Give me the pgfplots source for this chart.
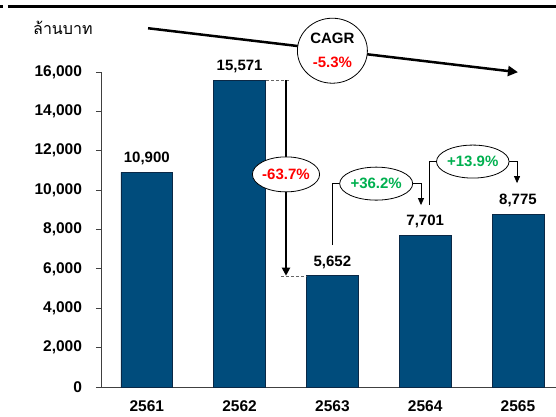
\documentclass[border=0pt]{standalone}
\usepackage{pgfplots}
\pgfplotsset{compat=1.18}
\usepackage{fontspec}
\setmainfont{Liberation Sans}
\newfontfamily\thaifont[Script=Thai]{Loma}
\usetikzlibrary{arrows.meta,shapes.geometric}
\definecolor{barblue}{RGB}{0,76,124}
\definecolor{baredge}{RGB}{10,40,70}
\definecolor{pctred}{RGB}{255,0,0}
\definecolor{pctgreen}{RGB}{0,176,80}
\begin{document}
\begin{tikzpicture}
\begin{axis}[
  at={(0,0)}, anchor=south west,
  scale only axis, width=455pt, height=315pt,
  xmin=-0.494, xmax=4.41, ymin=0, ymax=16000,
  axis x line*=bottom, axis y line*=left,
  axis line style={line width=0.8pt, color=black!75, -},
  xtick={0,1,2,3,4}, xticklabels={2561,2562,2563,2564,2565},
  x tick style={draw=none},
  ytick={0,2000,4000,6000,8000,10000,12000,14000,16000},
  scaled y ticks=false,
  y tick style={line width=0.8pt, color=black!75},
  tick align=outside, major tick length=5pt,
  /pgf/number format/1000 sep={,},
  /pgf/number format/assume math mode=true,
  yticklabel={\pgfmathprintnumber[fixed,precision=0,1000 sep={,},assume math mode=true]{\tick}},
  tick label style={font=\bfseries\fontsize{15.5}{18}\selectfont},
  yticklabel style={xshift=-10.5pt},
  xticklabel style={yshift=-5pt},
  clip=false,
  ybar, bar width=51.7pt,
  nodes near coords,
  nodes near coords style={font=\bfseries\fontsize{15}{17}\selectfont, anchor=south, yshift=3.5pt, text=black},
]
\addplot[fill=barblue, draw=baredge, line width=0.6pt] coordinates {(0,10900) (1,15571) (2,5652) (3,7701) (4,8775)};

% -63.7%
\draw[densely dashed, thin, black!60] (1.286,15571) -- (1.545,15571);
\draw[densely dashed, thin, black!60] (1.444,5652) -- (1.725,5652);
\draw[line width=1.8pt, -{Triangle[length=8pt,width=8pt]}] (1.5,15571) -- (1.5,5652);
\node[ellipse, draw, line width=0.8pt, fill=white, minimum width=67pt, minimum height=35pt, inner sep=0pt, font=\bfseries\fontsize{15}{17}\selectfont, text=pctred] at (1.5,10800) {-63.7\%};

% +36.2%
\draw[line width=0.8pt, -{Triangle[length=7pt,width=6pt]}] (2.0,7208) -- (2.0,10330) -- (2.955,10330) -- (2.955,9239);
\node[ellipse, draw, line width=0.8pt, fill=white, minimum width=73pt, minimum height=33pt, inner sep=0pt, font=\bfseries\fontsize{15}{17}\selectfont, text=pctgreen] at (2.472,10330) {+36.2\%};

% +13.9%
\draw[line width=0.8pt, -{Triangle[length=7pt,width=6pt]}] (3.044,9239) -- (3.044,11450) -- (3.99,11450) -- (3.99,10355);
\node[ellipse, draw, line width=0.8pt, fill=white, minimum width=72pt, minimum height=33pt, inner sep=0pt, font=\bfseries\fontsize{15}{17}\selectfont, text=pctgreen] at (3.513,11450) {+13.9\%};

% CAGR
\draw[line width=2.5pt, -{Triangle[length=10pt,width=10pt]}] (0.013,18223) -- (4.0,15990);
\node[ellipse, draw, line width=0.8pt, fill=white, minimum width=70pt, minimum height=65pt, inner sep=0pt, align=center, font=\bfseries\fontsize{15}{17}\selectfont] at (2.0,17081) {CAGR\\[7pt]\textcolor{pctred}{-5.3\%}};
\end{axis}
\draw[line width=3pt] (-93pt,380.3pt) -- (455pt,380.3pt);
\draw[line width=3pt] (-101pt,380.3pt) -- (-97.5pt,380.3pt);
\node[anchor=west, inner sep=0pt, font=\thaifont\fontsize{16}{18}\selectfont, text=black] at (-68pt,359.5pt) {ล้านบาท};
\pgfresetboundingbox
\path[use as bounding box] (-101pt,-29pt) rectangle (455pt,387pt);
\end{tikzpicture}
\end{document}
